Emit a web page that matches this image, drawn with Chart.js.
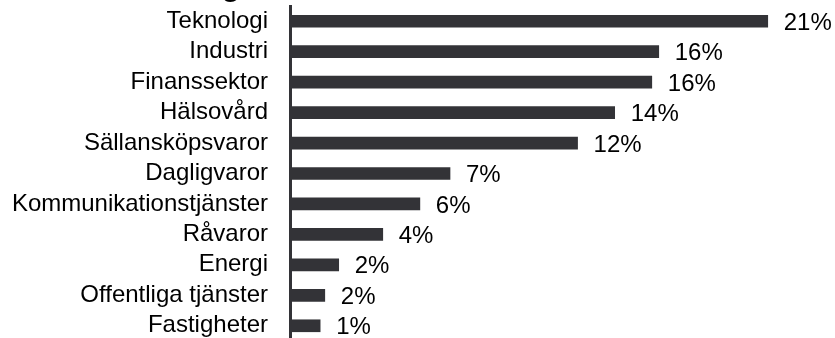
<!DOCTYPE html>
<html lang="sv">

<head>
  <title>Sektorfördelning</title>
  <meta charset="UTF-8">
  <script src="https://cdn.jsdelivr.net/npm/chart.js"></script>
  <style>
    html, body { margin: 0; padding: 0; background: #fff; overflow: hidden; }
    #sectorChart { display: block; margin-top: -40px; }
  </style>
</head>

<body>
  <!-- the title sits mostly above the visible window, like in the original -->
  <canvas id="sectorChart" width="835" height="381"></canvas>

  <script>
    // sectors and their weights in percent
    const sectors = ['Teknologi', 'Industri', 'Finanssektor', 'Hälsovård', 'Sällansköpsvaror',
      'Dagligvaror', 'Kommunikationstjänster', 'Råvaror', 'Energi', 'Offentliga tjänster', 'Fastigheter'];
    const weights = [20.6, 15.9, 15.6, 14.0, 12.4, 6.9, 5.6, 4.0, 2.1, 1.5, 1.3];
    const titleText = 'Sektorfördelning';

    const barColor = '#333337';
    const fontFamily = '"Liberation Sans", Arial, sans-serif';

    // draws the "21%" etc. to the right of each bar
    const valueLabels = {
      id: 'valueLabels',
      afterDatasetsDraw(chart) {
        const ctx = chart.ctx;
        const meta = chart.getDatasetMeta(0);
        ctx.save();
        ctx.font = '24px ' + fontFamily;
        ctx.fillStyle = '#000';
        ctx.textAlign = 'left';
        ctx.textBaseline = 'middle';
        meta.data.forEach((bar, i) => {
          ctx.fillText(Math.round(weights[i]) + '%', bar.x + 16, bar.y + 2);
        });
        ctx.restore();
      }
    };

    new Chart(document.getElementById('sectorChart'), {
      type: 'bar',
      data: {
        labels: sectors,
        datasets: [{
          data: weights,
          backgroundColor: barColor,
          borderWidth: 0,
          barThickness: 12
        }]
      },
      options: {
        indexAxis: 'y',
        responsive: false,
        animation: false,
        layout: { padding: 0 },
        plugins: {
          legend: { display: false },
          tooltip: { enabled: false },
          title: {
            display: true,
            text: titleText,
            align: 'start',
            color: '#000',
            font: { family: fontFamily, size: 30, weight: 'bold', lineHeight: 1.2 },
            padding: { top: 10, bottom: 0 }
          }
        },
        scales: {
          x: {
            display: false,
            min: 0,
            max: 23.5
          },
          y: {
            afterFit(scale) {
              scale.width = 290;
              // rows run to the bottom edge, no room kept for half a label
              scale.paddingTop = 0;
              scale.paddingBottom = 0;
            },
            grid: { display: false, drawTicks: false },
            border: { display: true, color: barColor, width: 3 },
            ticks: {
              autoSkip: false,
              padding: 22,
              color: '#000',
              font: { family: fontFamily, size: 24 }
            }
          }
        }
      },
      plugins: [valueLabels]
    });
  </script>
</body>

</html>
